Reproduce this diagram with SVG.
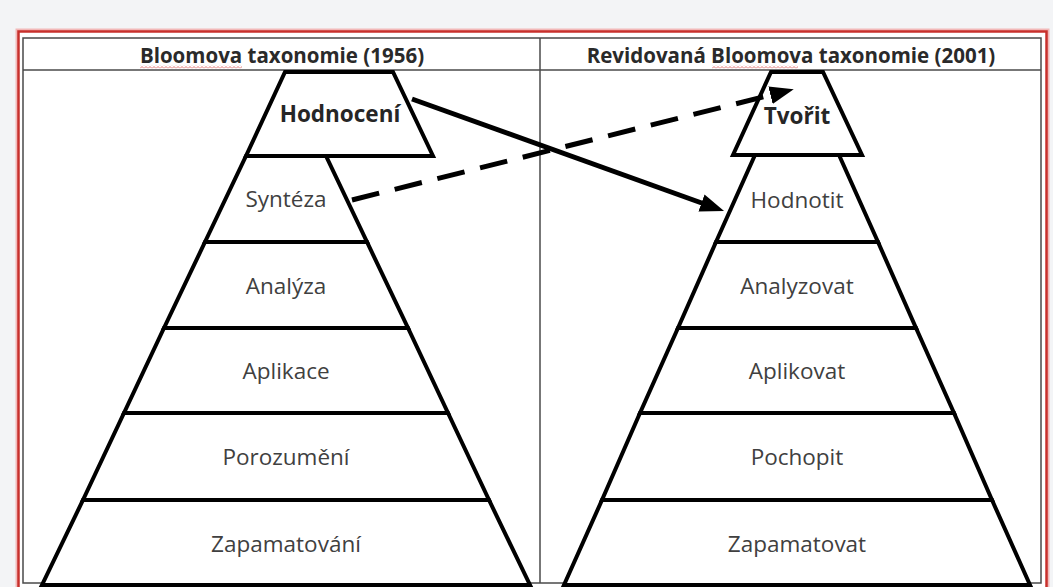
<svg xmlns="http://www.w3.org/2000/svg" width="1053" height="587" viewBox="0 0 1053 587">
<style>
.band{fill:#fff;stroke:#000;stroke-width:4;stroke-linejoin:miter}
.lbl{font-family:"Open Sans","Liberation Sans",sans-serif;font-size:22.5px;fill:#404040;text-anchor:middle;dominant-baseline:central}
.bold{font-weight:bold;fill:#262626}
.hdr{font-family:"Open Sans","Liberation Sans",sans-serif;font-size:20.5px;font-weight:bold;fill:#2a2a2a;text-anchor:middle;dominant-baseline:central}
.frame{fill:none;stroke:#4a4a4a;stroke-width:1.5}
.conn{fill:none;stroke:#000;stroke-width:5}
</style>
<defs>
<marker id="head" markerUnits="userSpaceOnUse" markerWidth="26" markerHeight="20" refX="15" refY="9" orient="auto" viewBox="0 0 26 20">
<path d="M0,0 L24,9 L0,18 z" fill="#000"/>
</marker>
<pattern id="squig" width="4" height="3" patternUnits="userSpaceOnUse">
<path d="M0,2.5 L2,0.5 L4,2.5" stroke="#d9534f" fill="none" stroke-width="0.8"/>
</pattern>
</defs>
<rect x="0" y="0" width="1053" height="587" fill="#f3f4f6"/>
<rect x="18.5" y="31.5" width="1028" height="600" fill="#fff" stroke="#f2b8b8" stroke-width="6"/>
<rect x="18.5" y="31.5" width="1028" height="600" fill="#fff" stroke="#c8302c" stroke-width="2.5"/>
<g id="table">
<rect class="frame" x="23" y="38" width="1018" height="545"/>
<line class="frame" x1="23" y1="70" x2="1041" y2="70"/>
<line class="frame" x1="540" y1="38" x2="540" y2="583"/>
<text class="hdr" x="282" y="55">Bloomova taxonomie (1956)</text>
<text class="hdr" x="791" y="55">Revidovaná Bloomova taxonomie (2001)</text>
<rect x="140" y="65.5" width="102" height="3" fill="url(#squig)"/>
<rect x="712" y="65.5" width="86" height="3" fill="url(#squig)"/>
</g>
<g id="left-pyramid">
<g id="l-syntez"><polygon class="band" points="246,156 326,156 367,242 205,242"/><text class="lbl" x="286" y="198">Syntéza</text></g>
<g id="l-analyza"><polygon class="band" points="205,242 367,242 408,328 164,328"/><text class="lbl" x="286" y="285">Analýza</text></g>
<g id="l-aplikace"><polygon class="band" points="164,328 408,328 448,413 124,413"/><text class="lbl" x="286" y="370">Aplikace</text></g>
<g id="l-porozumeni"><polygon class="band" points="124,413 448,413 489,500 83,500"/><text class="lbl" x="286" y="456">Porozumění</text></g>
<g id="l-zapamatovani"><polygon class="band" points="83,500 489,500 530,585 42,585"/><text class="lbl" x="286" y="543">Zapamatování</text></g>
<g id="l-hodnoceni"><polygon class="band" points="285,72 393,72 433,156 246,156"/><text class="lbl bold" x="340" y="113">Hodnocení</text></g>
</g>
<g id="right-pyramid">
<g id="r-hodnotit"><polygon class="band" points="755,155 839,155 878,242 716,242"/><text class="lbl" x="797" y="199">Hodnotit</text></g>
<g id="r-analyzovat"><polygon class="band" points="716,242 878,242 916,328 678,328"/><text class="lbl" x="797" y="285">Analyzovat</text></g>
<g id="r-aplikovat"><polygon class="band" points="678,328 916,328 954,413 640,413"/><text class="lbl" x="797" y="370">Aplikovat</text></g>
<g id="r-pochopit"><polygon class="band" points="640,413 954,413 992,500 602,500"/><text class="lbl" x="797" y="456">Pochopit</text></g>
<g id="r-zapamatovat"><polygon class="band" points="602,500 992,500 1030,585 564,585"/><text class="lbl" x="797" y="543">Zapamatovat</text></g>
<g id="r-tvorit"><polygon class="band" points="771,72 823,72 862,155 733,155"/><text class="lbl bold" x="797" y="115">Tvořit</text></g>
</g>
<g id="connectors">
<line class="conn" x1="412" y1="99" x2="715.6" y2="208" marker-end="url(#head)"/>
<line class="conn" x1="352" y1="200" x2="785" y2="91.5" stroke-dasharray="28 16" marker-end="url(#head)"/>
</g>
</svg>
